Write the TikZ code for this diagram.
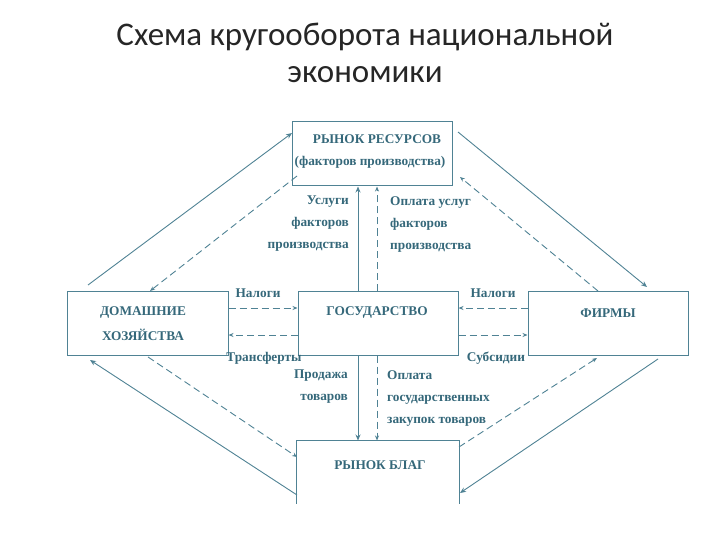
\documentclass[tikz,border=0pt]{standalone}
\usepackage{fontspec}
\setmainfont{Liberation Serif}
\newfontfamily\titlefont{Carlito}
\usetikzlibrary{arrows.meta}
\definecolor{lc}{HTML}{4F8294}
\definecolor{tc}{HTML}{35687A}
\tikzset{
  box/.style={draw=lc, line width=1pt, minimum width=160pt, minimum height=64pt, inner sep=0pt},
  btext/.style={text=tc, font=\bfseries\fontsize{13.3}{14}\selectfont, inner sep=0pt},
  ltext/.style={text=tc, font=\bfseries\fontsize{13.3}{22}\selectfont, inner sep=0pt},
  sol/.style={draw=lc, line width=0.9pt, -{Stealth[length=6pt,width=5pt]}},
  dsh/.style={draw=lc, line width=0.9pt, dash pattern=on 7pt off 4pt, -{Stealth[length=5pt,width=4pt]}}
}
\begin{document}
\begin{tikzpicture}[x=1pt,y=-1pt]
\useasboundingbox (0,0) rectangle (720,540);
% title
\node[font=\titlefont\fontsize{33}{37}\selectfont, align=center, text=black!85] (title) at (365,53) {Схема кругооборота национальной\\экономики};
% boxes
\node[box] (res) at (372,154) {};
\node[box, minimum width=161pt] (hh) at (147.5,323) {};
\node[box] (gov) at (378,323) {};
\node[box] (firm) at (608,323) {};
\node[box, draw=none, minimum width=162pt, minimum height=62pt] (goods) at (378,472) {};
\draw[lc, line width=1pt] (goods.south west) -- (goods.north west) -- (goods.north east) -- (goods.south east);
% box texts
\node[btext] (rest1) at (377,139) {РЫНОК РЕСУРСОВ};
\node[btext] (rest2) at (370,162) {(факторов производства)};
\node[btext] (hht1) at (143,313) {ДОМАШНИЕ};
\node[btext] (hht2) at (143,335) {ХОЗЯЙСТВА};
\node[btext] (govt) at (377,313) {ГОСУДАРСТВО};
\node[btext] (firmt) at (608,313) {ФИРМЫ};
\node[btext] (goodst) at (380,465) {РЫНОК БЛАГ};
% labels
\node[ltext, align=right, anchor=north east] (l1) at (349,196) {Услуги\\факторов\\производства};
\node[ltext, align=left, anchor=north west] (l2) at (390,196) {Оплата услуг\\факторов\\производства};
\node[ltext, align=right, anchor=north east] (l3) at (348,370) {Продажа\\товаров};
\node[ltext, align=left, anchor=north west] (l4) at (387,370) {Оплата\\государственных\\закупок товаров};
\node[ltext] (tax1) at (258,293) {Налоги};
\node[ltext] (trans) at (264,358) {Трансферты};
\node[ltext] (tax2) at (493,293) {Налоги};
\node[ltext] (subs) at (496,358) {Субсидии};
% coordinates
\coordinate (a1) at (88,285);   \coordinate (b1) at (292,133);
\coordinate (a2) at (297,176);  \coordinate (b2) at (150,291);
\coordinate (a3) at (458,132);  \coordinate (b3) at (647,287);
\coordinate (a4) at (598,291);  \coordinate (b4) at (460,177);
\coordinate (a5) at (148,357);  \coordinate (b5) at (297,457);
\coordinate (a6) at (297,495);  \coordinate (b6) at (90,360);
\coordinate (a7) at (459,447);  \coordinate (b7) at (597,358);
\coordinate (a8) at (658,359);  \coordinate (b8) at (460,493);
% diagonals
\draw[sol] (a1) -- (b1);
\draw[dsh] (a2) -- (b2);
\draw[sol] (a3) -- (b3);
\draw[dsh] (a4) -- (b4);
\draw[dsh] (a5) -- (b5);
\draw[sol] (a6) -- (b6);
\draw[dsh] (a7) -- (b7);
\draw[sol] (a8) -- (b8);
% horizontals
\draw[dsh] (hh.east |- 0,308) -- (gov.west |- 0,308);
\draw[dsh] (gov.west |- 0,335) -- (hh.east |- 0,335);
\draw[dsh] (firm.west |- 0,308) -- (gov.east |- 0,308);
\draw[dsh] (gov.east |- 0,335) -- (firm.west |- 0,335);
% verticals
\draw[sol] (gov.north -| 358,0) -- (res.south -| 358,0);
\draw[dsh] (gov.north -| 377,0) -- (res.south -| 377,0);
\draw[sol] (gov.south -| 358,0) -- (goods.north -| 358,0);
\draw[dsh] (gov.south -| 377,0) -- (goods.north -| 377,0);
\end{tikzpicture}
\end{document}
